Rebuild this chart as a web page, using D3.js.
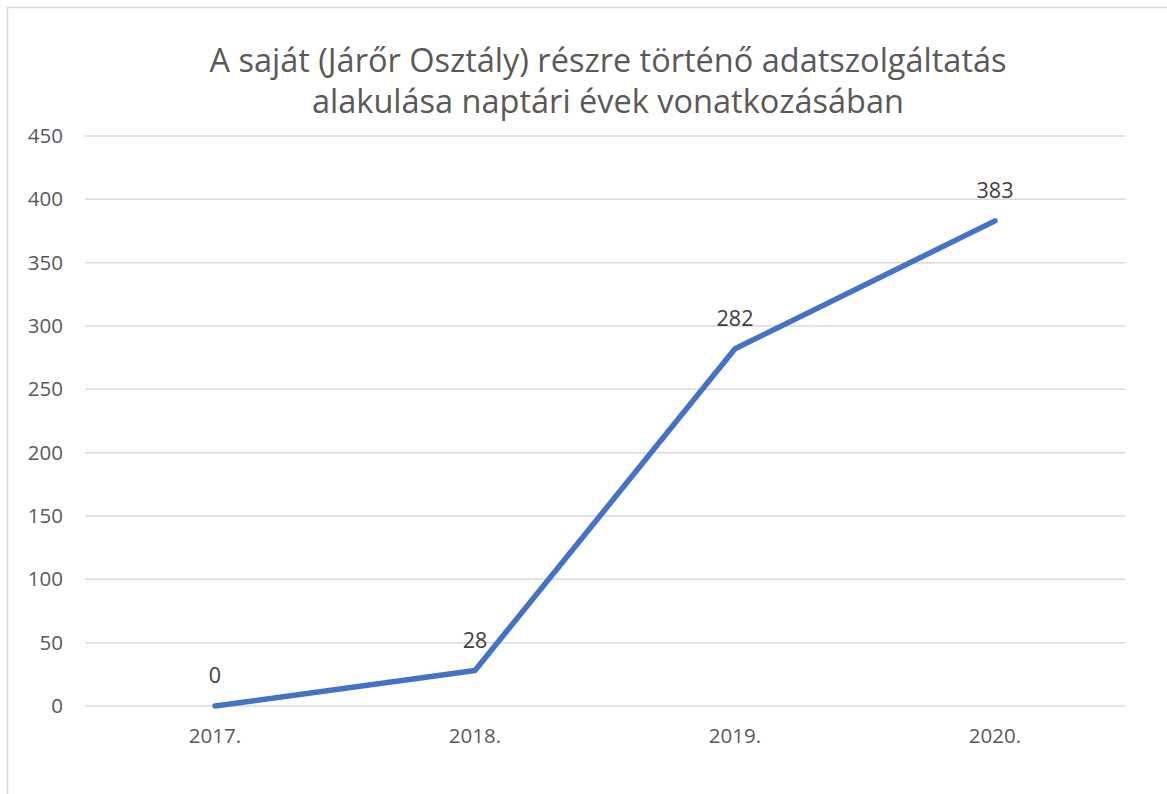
<!DOCTYPE html>
<html>
<head>
<meta charset="utf-8">
<script src="https://cdn.jsdelivr.net/npm/d3@7"></script>
<style>
  html, body { margin: 0; padding: 0; background: #fff; }
  svg { display: block; font-family: "Open Sans", "Noto Sans", sans-serif; }
</style>
</head>
<body>
<svg id="chart" width="1167" height="794"></svg>
<script>
// data
var years = ['2017.', '2018.', '2019.', '2020.'];
var values = [0, 28, 282, 383];
var yTicks = [0, 50, 100, 150, 200, 250, 300, 350, 400, 450];
var titleLines = ['A saját (Járőr Osztály) részre történő adatszolgáltatás',
                  'alakulása naptári évek vonatkozásában'];

var svg = d3.select('#chart');
var plotLeft = 85, plotRight = 1125, plotTop = 136, plotBottom = 706;
var labelFont = '"Open Sans", "Noto Sans", sans-serif';

// chart frame (right/bottom edges fall outside the picture)
svg.append('rect')
    .attr('x', 7.5).attr('y', 7.5)
    .attr('width', 1200).attr('height', 820)
    .attr('fill', 'none')
    .attr('stroke', '#d9d9d9')
    .attr('stroke-width', 1.5);

var x = d3.scaleBand().domain(years).range([plotLeft, plotRight]);
var y = d3.scaleLinear().domain([0, 450]).range([plotBottom, plotTop]);

// gridlines
svg.append('g').selectAll('line')
    .data(yTicks)
    .enter().append('line')
    .attr('x1', plotLeft).attr('x2', plotRight)
    .attr('y1', function(d) { return y(d); })
    .attr('y2', function(d) { return y(d); })
    .attr('stroke', '#d9d9d9')
    .attr('stroke-width', 1.5);

// y axis labels
var yAxis = svg.append('g')
    .attr('transform', 'translate(' + (plotLeft - 22) + ',0)')
    .call(d3.axisLeft(y).tickValues(yTicks).tickSize(0).tickPadding(0));
yAxis.select('.domain').remove();
yAxis.selectAll('text')
    .attr('fill', '#595959')
    .attr('font-size', '20.5px')
    .attr('font-family', labelFont);

// x axis labels
var xAxis = svg.append('g')
    .attr('transform', 'translate(0,' + (plotBottom + 22) + ')')
    .call(d3.axisBottom(x).tickSize(0).tickPadding(0));
xAxis.select('.domain').remove();
xAxis.selectAll('text')
    .attr('fill', '#595959')
    .attr('font-size', '20.5px')
    .attr('font-family', labelFont);

// line
var line = d3.line()
    .x(function(d, i) { return x(years[i]) + x.bandwidth() / 2; })
    .y(function(d) { return y(d); });

svg.append('path')
    .datum(values)
    .attr('d', line)
    .attr('fill', 'none')
    .attr('stroke', '#4472c4')
    .attr('stroke-width', 5.5)
    .attr('stroke-linecap', 'round')
    .attr('stroke-linejoin', 'round');

// data labels
svg.append('g').selectAll('text')
    .data(values)
    .enter().append('text')
    .attr('x', function(d, i) { return x(years[i]) + x.bandwidth() / 2; })
    .attr('y', function(d) { return y(d) - 23; })
    .attr('text-anchor', 'middle')
    .attr('fill', '#404040')
    .attr('font-size', '21.5px')
    .text(function(d) { return d; });

// title
svg.append('g').selectAll('text')
    .data(titleLines)
    .enter().append('text')
    .attr('x', 608)
    .attr('y', function(d, i) { return 72 + i * 41; })
    .attr('text-anchor', 'middle')
    .attr('fill', '#595959')
    .attr('font-size', '32.5px')
    .text(function(d) { return d; });
</script>
</body>
</html>
